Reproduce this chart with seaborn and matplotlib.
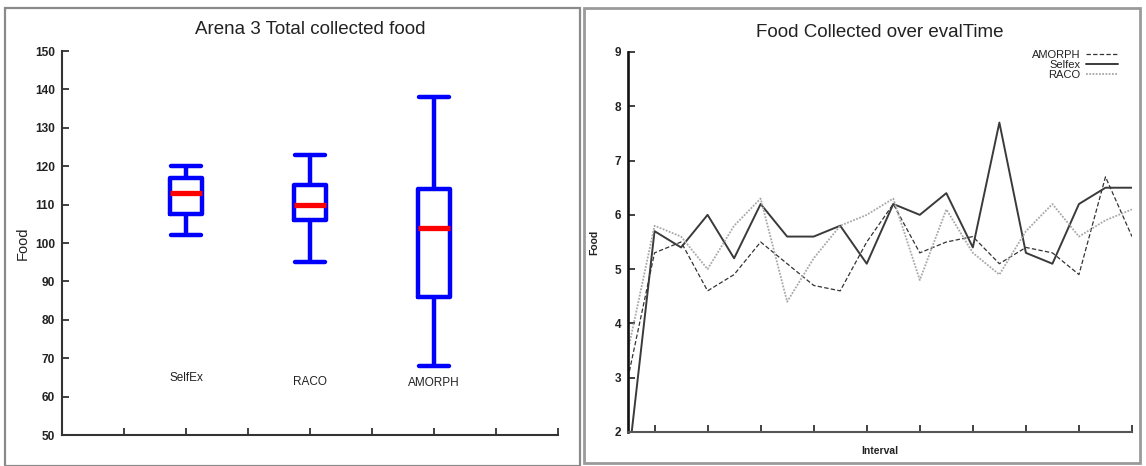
import matplotlib
matplotlib.use('Agg')
import matplotlib.pyplot as plt
from matplotlib.patches import Rectangle
import seaborn as sns
import pandas as pd
import numpy as np

# ── data: left panel (five-number summary per group) ───
box_groups = ["SelfEx", "RACO", "AMORPH"]
selfex_food = [102, 107.5, 113, 117, 120]   # min, q1, median, q3, max
raco_food = [95, 106, 110, 115, 123]
amorph_food = [68, 86, 104, 114, 138]
label_heights = [64.9, 63.8, 63.5]

# ── data: right panel (food per interval) ──────────────
interval = list(range(20))
amorph_line = [3.0, 5.3, 5.5, 4.6, 4.9, 5.5, 5.1, 4.7, 4.6, 5.5,
               6.2, 5.3, 5.5, 5.6, 5.1, 5.4, 5.3, 4.9, 6.7, 5.6]
selfex_line = [1.4, 5.7, 5.4, 6.0, 5.2, 6.2, 5.6, 5.6, 5.8, 5.1,
               6.2, 6.0, 6.4, 5.4, 7.7, 5.3, 5.1, 6.2, 6.5, 6.5]
raco_line = [3.5, 5.8, 5.6, 5.0, 5.8, 6.3, 4.4, 5.2, 5.8, 6.0,
             6.3, 4.8, 6.1, 5.3, 4.9, 5.7, 6.2, 5.6, 5.9, 6.1]

sns.set_theme(style="white")
plt.rcParams['font.family'] = ['Liberation Sans', 'DejaVu Sans']

W, H = 1146, 466
fig = plt.figure(figsize=(W / 100, H / 100), dpi=100)

def px_box(x0, y0, x1, y1):
    # pixel box (top-left origin) -> figure fraction [left, bottom, width, height]
    return [x0 / W, 1 - y1 / H, (x1 - x0) / W, (y1 - y0) / H]

# panel frames
for (x0, y0, x1, y1), col, lw in [((5, 8, 580, 466), "#8a8a8a", 1.6),
                                  ((584, 8, 1140, 463), "#9a9a9a", 2.0)]:
    l, b, w, h = px_box(x0, y0, x1, y1)
    fig.patches.append(Rectangle((l, b), w, h, transform=fig.transFigure,
                                 fill=False, edgecolor=col, linewidth=lw))

# ── left: box plot ─────────────────────────────────────
ax1 = fig.add_axes(px_box(62, 51, 558, 435))
box_df = pd.DataFrame({
    "group": np.repeat(box_groups, 5),
    "food": selfex_food + raco_food + amorph_food,
})
sns.boxplot(data=box_df, x="group", y="food", order=box_groups, ax=ax1,
            width=0.26, fill=False, whis=(0, 100), color="#0000ff",
            linewidth=3.2, capwidths=0.24,
            medianprops=dict(color="#ff0000", linewidth=3.8))
for i, (name, yh) in enumerate(zip(box_groups, label_heights)):
    ax1.text(i, yh, name, ha="center", va="center", fontsize=8.5, color="#222222")

ax1.set_xlim(-1, 3)
ax1.set_ylim(50, 150)
ax1.set_xticks(np.arange(-1, 3.01, 0.5))
ax1.set_xticklabels([])
ax1.set_yticks(range(50, 151, 10))
ax1.set_xlabel("")
ax1.set_ylabel("Food", fontsize=10.5, color="#222222", labelpad=4)
ax1.set_title("Arena 3 Total collected food", fontsize=13.5, color="#222222", pad=12)
ax1.tick_params(direction="in", length=5, width=1.3, color="#333333",
                labelsize=8.6, labelcolor="#222222", pad=5, left=True, bottom=True)
for lab in ax1.get_yticklabels():
    lab.set_fontweight("bold")
for s in ["top", "right"]:
    ax1.spines[s].set_visible(False)
for s in ["left", "bottom"]:
    ax1.spines[s].set_color("#333333")
    ax1.spines[s].set_linewidth(1.5)

# ── right: line chart ──────────────────────────────────
ax2 = fig.add_axes(px_box(628, 52, 1132, 432))
series = [
    ("AMORPH", amorph_line, "#333333", (0, (3.5, 1.8)), 0.9),
    ("Selfex", selfex_line, "#3a3a3a", "-", 1.4),
    ("RACO", raco_line, "#a8a8a8", (0, (1, 0.8)), 1.3),
]
for name, vals, col, ls, lw in series:
    sns.lineplot(x=interval, y=vals, ax=ax2, color=col, linestyle=ls,
                 linewidth=lw, label=name)

ax2.set_xlim(0, 19)
ax2.set_ylim(2, 9)
ax2.set_xticks(range(1, 20, 2))
ax2.set_xticklabels([])
ax2.set_yticks(range(2, 10))
ax2.set_xlabel("Interval", fontsize=7.5, fontweight="bold", color="#222222", labelpad=5)
ax2.set_ylabel("Food", fontsize=7.5, fontweight="bold", color="#222222", labelpad=11)
ax2.set_title("Food Collected over evalTime", fontsize=13.5, color="#222222", pad=11)
ax2.tick_params(direction="in", length=5, width=1.3, color="#333333",
                labelsize=8.5, labelcolor="#222222", pad=5, left=True, bottom=True)
for lab in ax2.get_yticklabels():
    lab.set_fontweight("bold")
for s in ["top", "right"]:
    ax2.spines[s].set_visible(False)
ax2.spines["left"].set_color("#111111")
ax2.spines["left"].set_linewidth(1.9)
ax2.spines["bottom"].set_color("#555555")
ax2.spines["bottom"].set_linewidth(1.5)

leg = ax2.legend(loc="upper right", bbox_to_anchor=(0.972, 1.005), frameon=False,
                 markerfirst=False, fontsize=8, labelspacing=0.0,
                 handlelength=2.9, handletextpad=0.45, borderpad=0, borderaxespad=0)
for t in leg.get_texts():
    t.set_color("#222222")

fig.savefig("out.png", dpi=100)
plt.close(fig)
